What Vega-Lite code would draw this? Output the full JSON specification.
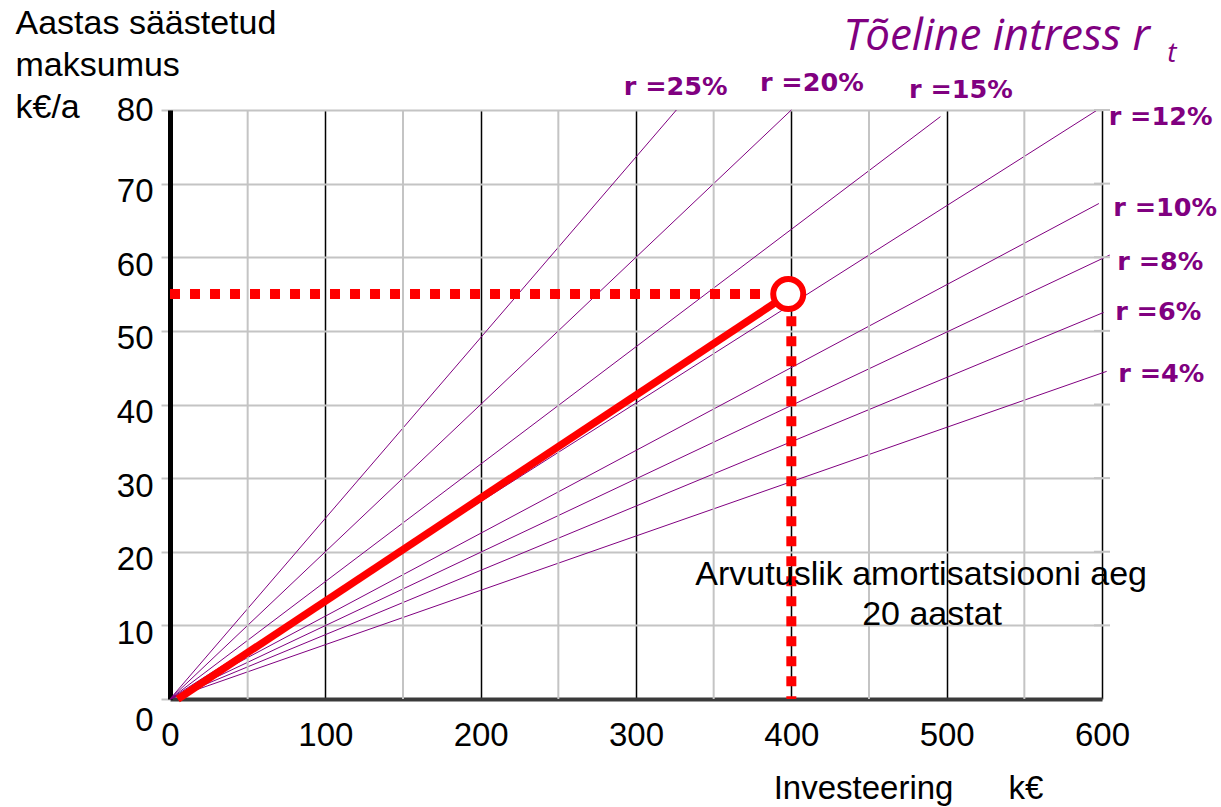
{
  "$schema": "https://vega.github.io/schema/vega-lite/v6.json",
  "width": 932,
  "height": 589,
  "autosize": {"type": "none"},
  "padding": {"left": 170, "top": 110, "right": 119, "bottom": 108},
  "background": "white",
  "config": {"view": {"stroke": null}, "axis": {"labelFont": "Liberation Sans", "titleFont": "Liberation Sans"}},
  "datasets": {
    "minor": [{"inv": 50}, {"inv": 150}, {"inv": 250}, {"inv": 350}, {"inv": 450}, {"inv": 550}],
    "hticks": [{"sav": 10}, {"sav": 20}, {"sav": 30}, {"sav": 40}, {"sav": 50}, {"sav": 60}, {"sav": 70}, {"sav": 80}],
    "rlines": [
      {"r": "25%", "inv": 0, "sav": 0}, {"r": "25%", "inv": 326, "sav": 80},
      {"r": "20%", "inv": 0, "sav": 0}, {"r": "20%", "inv": 400, "sav": 80},
      {"r": "15%", "inv": 0, "sav": 0}, {"r": "15%", "inv": 496, "sav": 79.1},
      {"r": "12%", "inv": 0, "sav": 0}, {"r": "12%", "inv": 597, "sav": 80},
      {"r": "10%", "inv": 0, "sav": 0}, {"r": "10%", "inv": 598, "sav": 67.3},
      {"r": "8%", "inv": 0, "sav": 0}, {"r": "8%", "inv": 605, "sav": 60.3},
      {"r": "6%", "inv": 0, "sav": 0}, {"r": "6%", "inv": 601, "sav": 52.5},
      {"r": "4%", "inv": 0, "sav": 0}, {"r": "4%", "inv": 603, "sav": 44.5}
    ],
    "redline": [{"inv": 5, "sav": 0}, {"inv": 398, "sav": 55}],
    "dashes": [
      {"seg": "h", "inv": 0, "sav": 55}, {"seg": "h", "inv": 382, "sav": 55},
      {"seg": "v", "inv": 400, "sav": 52}, {"seg": "v", "inv": 400, "sav": 0}
    ],
    "point": [{"inv": 398, "sav": 55}],
    "rlabels": [
      {"label": "r =25%", "inv": 325.5, "sav": 83.1},
      {"label": "r =20%", "inv": 413.2, "sav": 83.7},
      {"label": "r =15%", "inv": 509.2, "sav": 82.7},
      {"label": "r =12%", "inv": 637.7, "sav": 79.0},
      {"label": "r =10%", "inv": 640.7, "sav": 66.65},
      {"label": "r =8%", "inv": 637.5, "sav": 59.4},
      {"label": "r =6%", "inv": 636.2, "sav": 52.6},
      {"label": "r =4%", "inv": 638.2, "sav": 44.2}
    ],
    "note": [
      {"text": "Arvutuslik amortisatsiooni aeg", "inv": 483.6, "sav": 15.48},
      {"text": "20 aastat", "inv": 490.6, "sav": 10.05}
    ],
    "title": [{"text": "Tõeline intress r", "inv": 433.4, "sav": 88.2}],
    "sub": [{"text": "t", "inv": 645, "sav": 86.5}]
  },
  "layer": [
    {
      "data": {"name": "rlines"},
      "mark": {"type": "line", "stroke": "#800080", "strokeWidth": 1, "clip": false},
      "encoding": {
        "x": {
          "field": "inv", "type": "quantitative",
          "scale": {"domain": [0, 600], "nice": false, "zero": false},
          "axis": {
            "values": [0, 100, 200, 300, 400, 500, 600],
            "grid": true, "gridColor": "#000000", "gridWidth": 1.5,
            "ticks": false,
            "domain": true, "domainColor": "#3a3a3a", "domainWidth": 4,
            "labels": true,
            "labelFontSize": 33, "labelColor": "#000000", "labelPadding": 20,
            "labelFlush": false, "labelOverlap": false,
            "title": "Investeering\u00a0\u00a0\u00a0\u00a0\u00a0\u00a0k€",
            "titleFontSize": 33, "titleFontWeight": "normal", "titleColor": "#000000",
            "titleX": 738, "titleY": 99, "titleAlign": "center", "titleBaseline": "alphabetic"
          }
        },
        "y": {
          "field": "sav", "type": "quantitative",
          "scale": {"domain": [0, 80], "nice": false, "zero": false},
          "axis": {
            "values": [0, 10, 20, 30, 40, 50, 60, 70, 80],
            "grid": true, "gridColor": "#c4c4c4", "gridWidth": 2,
            "ticks": true, "tickColor": "#c4c4c4", "tickSize": 9, "tickWidth": 2,
            "domain": true, "domainColor": "#000000", "domainWidth": 5,
            "labels": true,
            "labelFontSize": 33, "labelColor": "#000000", "labelPadding": 8,
            "labelOffset": {"condition": [{"test": "datum.value === 0", "value": 21}, {"test": "datum.value === 80", "value": 0}], "value": 8},
            "title": ["Aastas säästetud", "maksumus", "k€/a"],
            "titleFontSize": 34, "titleFontWeight": "normal", "titleColor": "#000000",
            "titleAngle": 0, "titleAlign": "left", "titleBaseline": "alphabetic",
            "titleX": -155, "titleY": -77, "titleLineHeight": 42
          }
        },
        "detail": {"field": "r"}
      }
    },
    {
      "data": {"name": "minor"},
      "mark": {"type": "rule", "stroke": "#c4c4c4", "strokeWidth": 2},
      "encoding": {
        "x": {"field": "inv", "type": "quantitative", "scale": {"domain": [0, 600], "nice": false, "zero": false}}
      }
    },
    {
      "data": {"name": "hticks"},
      "mark": {"type": "tick", "orient": "horizontal", "color": "#c4c4c4", "thickness": 2, "size": 16, "opacity": 1, "clip": false},
      "encoding": {
        "x": {"datum": 600, "type": "quantitative", "scale": {"domain": [0, 600], "nice": false, "zero": false}},
        "y": {"field": "sav", "type": "quantitative", "scale": {"domain": [0, 80], "nice": false, "zero": false}}
      }
    },
    {
      "data": {"name": "redline"},
      "mark": {"type": "line", "stroke": "#ff0000", "strokeWidth": 7.5, "clip": false},
      "encoding": {
        "x": {"field": "inv", "type": "quantitative", "scale": {"domain": [0, 600], "nice": false, "zero": false}},
        "y": {"field": "sav", "type": "quantitative", "scale": {"domain": [0, 80], "nice": false, "zero": false}}
      }
    },
    {
      "data": {"name": "dashes"},
      "mark": {"type": "line", "stroke": "#ff0000", "strokeWidth": 10, "strokeDash": [10, 10], "clip": false},
      "encoding": {
        "x": {"field": "inv", "type": "quantitative", "scale": {"domain": [0, 600], "nice": false, "zero": false}},
        "y": {"field": "sav", "type": "quantitative", "scale": {"domain": [0, 80], "nice": false, "zero": false}},
        "detail": {"field": "seg"}
      }
    },
    {
      "data": {"name": "point"},
      "mark": {"type": "point", "shape": "circle", "filled": false, "fill": "#ffffff", "fillOpacity": 1, "stroke": "#ff0000", "strokeWidth": 6, "size": 900, "opacity": 1, "clip": false},
      "encoding": {
        "x": {"field": "inv", "type": "quantitative", "scale": {"domain": [0, 600], "nice": false, "zero": false}},
        "y": {"field": "sav", "type": "quantitative", "scale": {"domain": [0, 80], "nice": false, "zero": false}}
      }
    },
    {
      "data": {"name": "rlabels"},
      "mark": {"type": "text", "font": "DejaVu Sans", "fontWeight": "bold", "fontSize": 25.5, "color": "#800080", "align": "center", "baseline": "middle", "clip": false},
      "encoding": {
        "x": {"field": "inv", "type": "quantitative", "scale": {"domain": [0, 600], "nice": false, "zero": false}},
        "y": {"field": "sav", "type": "quantitative", "scale": {"domain": [0, 80], "nice": false, "zero": false}},
        "text": {"field": "label"}
      }
    },
    {
      "data": {"name": "note"},
      "mark": {"type": "text", "font": "Liberation Sans", "fontSize": 34, "color": "#000000", "align": "center", "baseline": "alphabetic", "clip": false},
      "encoding": {
        "x": {"field": "inv", "type": "quantitative", "scale": {"domain": [0, 600], "nice": false, "zero": false}},
        "y": {"field": "sav", "type": "quantitative", "scale": {"domain": [0, 80], "nice": false, "zero": false}},
        "text": {"field": "text"}
      }
    },
    {
      "data": {"name": "title"},
      "mark": {"type": "text", "font": "Open Sans", "fontStyle": "italic", "fontSize": 44, "color": "#800080", "align": "left", "baseline": "alphabetic", "clip": false},
      "encoding": {
        "x": {"field": "inv", "type": "quantitative", "scale": {"domain": [0, 600], "nice": false, "zero": false}},
        "y": {"field": "sav", "type": "quantitative", "scale": {"domain": [0, 80], "nice": false, "zero": false}},
        "text": {"field": "text"}
      }
    },
    {
      "data": {"name": "sub"},
      "mark": {"type": "text", "font": "Open Sans", "fontStyle": "italic", "fontSize": 28, "color": "#800080", "align": "center", "baseline": "alphabetic", "clip": false},
      "encoding": {
        "x": {"field": "inv", "type": "quantitative", "scale": {"domain": [0, 600], "nice": false, "zero": false}},
        "y": {"field": "sav", "type": "quantitative", "scale": {"domain": [0, 80], "nice": false, "zero": false}},
        "text": {"field": "text"}
      }
    }
  ]
}
